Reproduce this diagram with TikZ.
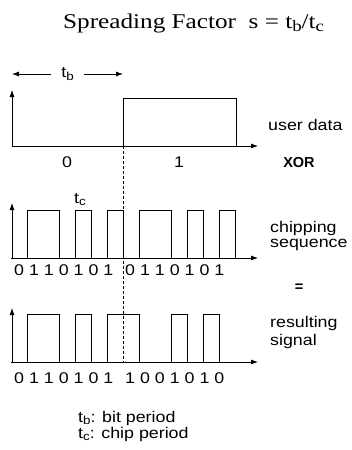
\documentclass[tikz,border=0pt]{standalone}
\usepackage{fontspec}
\usepackage{graphicx}
\setmainfont{Liberation Sans}
\newfontfamily\serfnt[FakeStretch=1.2]{Liberation Serif}
\newfontfamily\sansfnt[FakeStretch=1.15]{Liberation Sans}
\newfontfamily\xorfnt{Liberation Sans}
\usetikzlibrary{arrows.meta}
\newcommand\tsub[1]{\raisebox{-0.17em}{\scalebox{0.75}{#1}}}
\begin{document}
\begin{tikzpicture}[x=1pt,y=-1pt,
  ax/.style={-{Latex[length=7pt,width=5pt]}, line width=0.8pt},
  wave/.style={line width=0.8pt, line join=miter},
  dashln/.style={line width=0.7pt, dash pattern=on 3pt off 2pt},
  lbl/.style={inner sep=0pt, anchor=base west, font=\sansfnt\fontsize{15.5}{18}\selectfont},
  ctr/.style={inner sep=0pt, anchor=base, font=\sansfnt\fontsize{15.5}{18}\selectfont},
  bld/.style={inner sep=0pt, anchor=base, font=\xorfnt\bfseries\fontsize{14.5}{17}\selectfont}]
\useasboundingbox[fill=white] (0,0) rectangle (351,450);

% title
\node[inner sep=0pt, anchor=base west, font=\serfnt\fontsize{21}{25}\selectfont] (title) at (63,28)
  {Spreading Factor\ \ s = t\tsub{b}/t\tsub{c}};

% t_b arrows
\coordinate (tbl) at (12,74);
\coordinate (tbr) at (123,74);
\node[font=\sansfnt\fontsize{15.5}{18}\selectfont, inner xsep=10pt, inner ysep=0pt] (tb) at (67.5,74) {t\tsub{b}};
\draw[ax] (tb.west) -- (tbl);
\draw[ax] (tb.east) -- (tbr);

% user data axes
\coordinate (o1) at (12,146);
\coordinate (y1) at (12,90);
\coordinate (x1) at (258,146);
\draw[ax] (o1) -- (y1);
\draw[ax] (o1) -- (x1);
\draw[wave] (123,146) -- (123,98) -- (236,98) -- (236,146);

% chipping axes
\coordinate (o2) at (12,258);
\coordinate (y2) at (12,203);
\coordinate (x2) at (258,258);
\draw[ax] (o2) -- (y2);
\draw[ax] (o2) -- (x2);
\draw[wave] (11,258) -- (27,258) -- (27,210) -- (59,210) -- (59,258) -- (75,258) -- (75,210) -- (91,210) -- (91,258) -- (107,258) -- (107,210) -- (123,210) -- (123,258) -- (139,258) -- (139,210) -- (171,210) -- (171,258) -- (187,258) -- (187,210) -- (203,210) -- (203,258) -- (219,258) -- (219,210) -- (235,210) -- (235,258);

% result axes
\coordinate (o3) at (12,362);
\coordinate (y3) at (12,308);
\coordinate (x3) at (258,362);
\draw[ax] (o3) -- (y3);
\draw[ax] (o3) -- (x3);
\draw[wave] (11,362) -- (27,362) -- (27,314) -- (59,314) -- (59,362) -- (75,362) -- (75,314) -- (91,314) -- (91,362) -- (107,362) -- (107,314) -- (139,314) -- (139,362) -- (171,362) -- (171,314) -- (187,314) -- (187,362) -- (203,362) -- (203,314) -- (219,314) -- (219,362) -- (235,362);

% dashed bit boundary
\coordinate (dtop) at (123,146);
\coordinate (dbot) at (123,362);
\draw[dashln] (dtop) -- (dbot);

% labels
\node[lbl] (ud) at (268,130) {user data};
\node[ctr] (b0) at (67,167) {0};
\node[ctr] (b1) at (179,167) {1};
\node[bld] (xor) at (299,167) {XOR};
\node[lbl] (tc) at (74,203) {t\tsub{c}};
\node[lbl] (chip1) at (270,232) {chipping};
\node[lbl] (chip2) at (270,247) {sequence};
\node[lbl] (cd1) at (14,275) {0 1 1 0 1 0 1};
\node[lbl] (cd2) at (125,275) {0 1 1 0 1 0 1};
\node[bld] (eq) at (299,291) {=};
\node[lbl] (res1) at (270,327) {resulting};
\node[lbl] (res2) at (270,345) {signal};
\node[lbl] (rd1) at (14,383) {0 1 1 0 1 0 1};
\node[lbl] (rd2) at (125,383) {1 0 0 1 0 1 0};
\node[lbl] (leg1) at (78,422) {t\tsub{b}: bit period};
\node[lbl] (leg2) at (78,438) {t\tsub{c}: chip period};
\end{tikzpicture}
\end{document}
